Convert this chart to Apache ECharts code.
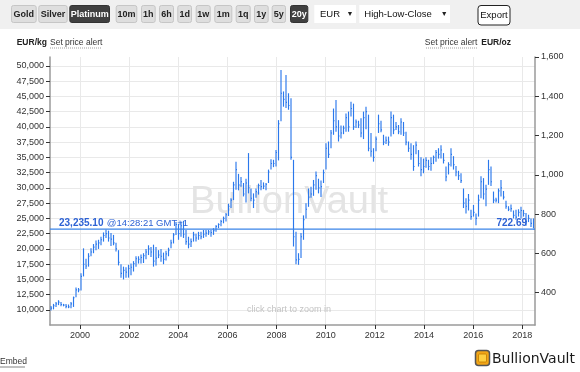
<!DOCTYPE html>
<html><head><meta charset="utf-8">
<script src="https://cdn.jsdelivr.net/npm/echarts@6/dist/echarts.min.js"></script>
<style>html,body{margin:0;padding:0;background:#fff}#c{width:580px;height:372px}</style>
</head><body><div id="c"></div>
<script>
// ---- data (EUR/kg), one HLC bar roughly every 37 days ----
const firstBarYear = 1998.82;
const barStepYears = 0.10174;
const highs = [
10650,11000,11300,11600,11300,11000,11000,10900,11300,12200,
13700,13600,16000,20100,18400,19300,20100,20800,21400,21500,
22000,22700,23200,23000,22600,22300,21000,19800,17500,17100,
17000,17400,17600,18000,18800,18800,19100,19300,20000,20600,
20300,20700,20300,19800,20000,19400,19700,20200,21500,22600,
24400,24100,24500,24600,23100,22000,21700,22800,22500,22800,
22800,23100,23100,23100,23100,23400,23900,24200,24800,25300,
25900,27400,28300,31000,34300,32300,31800,30800,31500,35700,
29900,29100,29900,30700,31300,30900,30800,33000,34700,34600,
36200,41100,49300,45800,48500,45500,44700,34600,22800,19300,
22600,25500,27500,29900,30200,31300,32700,31500,31200,33000,
37300,37600,39500,43000,44400,41100,40200,40200,42200,42500,
44100,43800,41200,41000,41400,42500,43300,42000,39000,36500,
38400,42000,41000,38700,38400,38400,42500,42000,40800,40300,
41400,40800,39200,37600,37300,37000,37600,36200,35000,34800,
35000,34600,35000,35300,36200,36500,37000,35700,33500,34200,
36500,35200,33600,32800,32400,29900,28300,29000,26400,27200,
25800,28900,31900,31600,30500,34600,33500,29400,28400,29900,
31300,29500,27900,27000,27300,26300,26400,26500,26900,26400,
25900,25600,25000,25000];
const lows = [
9900,10100,10500,10800,10600,10600,10300,10300,10300,10500,
12100,12900,13200,15500,16700,17100,18800,19300,19800,20000,
20600,21200,21800,21200,20500,20600,19600,17300,15300,15000,
15300,15300,15700,16300,17100,17600,17600,17700,18300,19000,
18700,17100,17300,18500,17900,17500,18100,18800,20100,20900,
22300,21500,22000,21800,20700,20100,20300,21200,21200,21500,
21600,21800,22000,22300,22000,22300,22800,23400,23700,24200,
24500,25400,26700,28000,29700,29600,30200,28600,27600,29100,
27800,26700,28400,28900,29600,29800,29600,30800,33000,33400,
33500,34500,40900,43300,43100,42800,34600,20400,17500,17400,
18500,21500,25000,26900,28400,28700,29700,29100,28500,30800,
33000,34900,36500,38700,39200,37600,38100,38800,39200,39200,
41700,39500,39800,39800,38300,38000,39600,36000,35100,34300,
36000,39000,39100,37000,37200,36900,38400,38800,39500,38800,
38700,38500,37000,35900,34600,32800,35500,33500,31900,32400,
33300,32900,32800,33900,34300,34800,34800,34000,31100,32200,
33500,33000,31900,31300,30800,26700,25800,26300,24800,25300,
23900,25300,28300,28100,27000,30500,30300,27500,27600,27500,
28600,28100,26600,26200,26100,25000,24800,25300,25000,25300,
23800,24400,23600,23400];
const closes = [
10300,10700,11000,11300,10900,10800,10600,10500,11000,12000,
13300,13300,15500,17500,17200,18800,19500,20300,20800,21000,
21500,22200,22500,21800,21600,21000,20000,17800,16000,16500,
16200,16800,17000,17600,18400,18300,18600,18900,19500,20000,
19500,18000,18500,19000,18800,18300,19200,19800,21000,22300,
24000,22500,23800,22400,21200,20800,21200,22300,21800,22200,
22000,22400,22600,22800,22700,23000,23700,24000,24500,25000,
25600,27000,28000,30500,33000,30500,31000,29000,30800,30000,
28300,28000,29400,30400,30200,30300,30600,32600,34000,34000,
35800,40500,45500,44500,44000,43500,35000,22000,18200,18300,
22000,24800,26500,28500,29000,30500,32000,30000,30200,32500,
36500,35500,39000,41000,40000,38500,39000,39800,41500,40000,
43000,40000,40800,40300,39000,41500,42500,36500,36000,35000,
38000,40500,39500,37500,37800,37500,41500,39500,40000,39200,
40800,39000,37500,36500,35500,33500,37000,34000,33000,33500,
34500,33500,34000,35000,35800,35500,36200,34500,31800,33800,
35500,33800,32600,32000,31200,27500,27000,28000,25300,26000,
25000,28000,31000,29000,29800,33000,31000,28000,28000,29500,
30000,28500,27000,26500,26600,25500,25200,26000,26300,25800,
24500,25000,24200,23235.10];
const yearTicks = [2000,2002,2004,2006,2008,2010,2012,2014,2016,2018];
const kgTicks = [10000,12500,15000,17500,20000,22500,25000,27500,30000,32500,35000,37500,40000,42500,45000,47500,50000];
const ozTicks = [400,600,800,1000,1200,1400,1600];
const lastPriceKg = 23235.10;
const lastPriceOz = 722.69;
const lastTime = '14:28:21 GMT+1';
const metalButtons = ['Gold','Silver','Platinum'];
const periodButtons = ['10m','1h','6h','1d','1w','1m','1q','1y','5y','20y'];
const selectedButtons = ['Platinum','20y'];
const KG_PER_OZ = 32.1507466;

// ---- layout (pixels) ----
const X_MIN = 1998.779, X_MAX = 2018.517;
const KG_MIN = 7541, OZ_MAX = 1600, KG_MAX = OZ_MAX * KG_PER_OZ;
const buttonBoxes = [[11,36.7],[38.3,67.7],[69.3,110],[115.7,137.3],[141,155.7],[159,174],[177.3,192],[195.7,210.7],[214.3,232.3],[235.7,250.7],[254,268.7],[271.7,286],[290,308.3]];
const FONT = "'Liberation Sans', Arial, sans-serif";
const fmt = v => Math.round(v).toLocaleString('en-US');
const BLUE = '#2a78ec';
const LINE_BLUE = '#3a84e8';
const LABEL_BLUE = '#2d62d4';

const graphics = [];
graphics.push({type:'rect', shape:{x:0,y:0,width:580,height:29}, style:{fill:'#f0f0f0'}, z:0});
metalButtons.concat(periodButtons).forEach((name, i) => {
  const [x0, x1] = buttonBoxes[i];
  const sel = selectedButtons.includes(name);
  graphics.push({type:'rect', shape:{x:x0+0.5,y:5.5,width:x1-x0-1,height:17,r:2},
    style:{fill: sel ? '#404040' : '#dedede', stroke: sel ? '#333' : '#c6c6c6', lineWidth:1}, z:1});
  graphics.push({type:'text', style:{text:name, x:(x0+x1)/2, y:14.3, textAlign:'center', textVerticalAlign:'middle',
    font:'bold 9px ' + FONT, fill: sel ? '#ffffff' : '#222'}, z:2});
});
// dropdowns
graphics.push({type:'rect', shape:{x:314.3,y:5,width:41.7,height:18}, style:{fill:'#fff'}, z:1});
graphics.push({type:'text', style:{text:'EUR', x:320, y:14.3, textVerticalAlign:'middle', font:'9.5px '+FONT, fill:'#111'}, z:2});
graphics.push({type:'text', style:{text:'▼', x:350, y:14.3, textAlign:'center', textVerticalAlign:'middle', font:'7px '+FONT, fill:'#222'}, z:2});
graphics.push({type:'rect', shape:{x:359.3,y:5,width:90.7,height:18}, style:{fill:'#fff'}, z:1});
graphics.push({type:'text', style:{text:'High-Low-Close', x:364.3, y:14.3, textVerticalAlign:'middle', font:'9.5px '+FONT, fill:'#111'}, z:2});
graphics.push({type:'text', style:{text:'▼', x:444.3, y:14.3, textAlign:'center', textVerticalAlign:'middle', font:'7px '+FONT, fill:'#222'}, z:2});
graphics.push({type:'rect', shape:{x:478,y:5.5,width:32,height:19.5,r:3}, style:{fill:'#fff', stroke:'#222', lineWidth:1}, z:1});
graphics.push({type:'text', style:{text:'Export', x:494, y:15.5, textAlign:'center', textVerticalAlign:'middle', font:'9.5px '+FONT, fill:'#111'}, z:2});
// unit row
graphics.push({type:'text', style:{text:'EUR/kg', x:16.7, y:43, textVerticalAlign:'middle', font:'bold 8.5px '+FONT, fill:'#222'}});
graphics.push({type:'text', style:{text:'Set price alert', x:50, y:43, textVerticalAlign:'middle', font:'8.5px '+FONT, fill:'#333'}});
graphics.push({type:'line', shape:{x1:50,y1:48,x2:101.5,y2:48}, style:{stroke:'#888', lineWidth:0.8, lineDash:[1,1]}});
graphics.push({type:'text', style:{text:'Set price alert', x:477.3, y:43, textAlign:'right', textVerticalAlign:'middle', font:'8.5px '+FONT, fill:'#333'}});
graphics.push({type:'line', shape:{x1:426,y1:48,x2:477.3,y2:48}, style:{stroke:'#888', lineWidth:0.8, lineDash:[1,1]}});
graphics.push({type:'text', style:{text:'EUR/oz', x:511, y:43, textAlign:'right', textVerticalAlign:'middle', font:'bold 8.5px '+FONT, fill:'#222'}});
// watermark and hint
graphics.push({type:'text', style:{text:'BullionVault', x:289, y:203, textAlign:'center', textVerticalAlign:'middle', font:'38px '+FONT, fill:'#e4e4e4'}, z:1});
graphics.push({type:'text', style:{text:'click chart to zoom in', x:289, y:310, textAlign:'center', textVerticalAlign:'middle', font:'9px '+FONT, fill:'#c4c4c4'}, z:1});
// footer
graphics.push({type:'text', style:{text:'Embed', x:0, y:362, textVerticalAlign:'middle', font:'8.5px '+FONT, fill:'#333'}});
graphics.push({type:'line', shape:{x1:0,y1:367,x2:25,y2:367}, style:{stroke:'#666', lineWidth:0.8}});
graphics.push({type:'rect', shape:{x:475.5,y:350.5,width:14,height:15,r:3}, style:{fill:'#f2a516', stroke:'#555', lineWidth:1.5}});
graphics.push({type:'rect', shape:{x:478.5,y:354,width:8,height:8,r:1}, style:{fill:'#ffcf40', stroke:'#c07a00', lineWidth:0.8}});
graphics.push({type:'text', style:{text:'BullionVault', x:492, y:359, textVerticalAlign:'middle', font:'14px DejaVu Sans, sans-serif', fill:'#1a1a1a'}});

const barData = highs.map((h, i) => [firstBarYear + i * barStepYears, h, lows[i], closes[i]]);

const chart = echarts.init(document.getElementById('c'), null, {renderer:'canvas'});
chart.setOption({
  animation: false,
  backgroundColor: '#fff',
  color: [LINE_BLUE],
  grid: {left:50, right:45, top:57, bottom:47, containLabel:false},
  xAxis: {
    type:'value', min:X_MIN, max:X_MAX,
    axisLine:{show:true, onZero:false, lineStyle:{color:'#9a9a9a', width:1.5}},
    axisTick:{show:true, length:4, customValues:yearTicks, lineStyle:{color:'#333'}},
    axisLabel:{customValues:yearTicks, fontSize:9, fontFamily:FONT, color:'#333', margin:6, formatter:v=>String(v)},
    splitLine:{show:true, lineStyle:{color:'#e9e9e9', width:1}}
  },
  yAxis: [{
    type:'value', position:'left', min:KG_MIN, max:KG_MAX,
    axisLine:{show:true, lineStyle:{color:'#9a9a9a', width:1.5}},
    axisTick:{show:true, length:4, customValues:kgTicks, lineStyle:{color:'#333'}},
    axisLabel:{customValues:kgTicks, fontSize:9, fontFamily:FONT, color:'#333', margin:6, formatter:fmt},
    splitLine:{show:true, lineStyle:{color:'#e9e9e9', width:1}}
  },{
    type:'value', position:'right', min:KG_MIN/KG_PER_OZ, max:OZ_MAX,
    axisLine:{show:true, lineStyle:{color:'#9a9a9a', width:1.5}},
    axisTick:{show:true, length:4, customValues:ozTicks, lineStyle:{color:'#333'}},
    axisLabel:{customValues:ozTicks, fontSize:9, fontFamily:FONT, color:'#333', margin:6, formatter:fmt},
    splitLine:{show:false}
  }],
  graphic: graphics,
  series: [{
    type:'custom', xAxisIndex:0, yAxisIndex:0, clip:true, z:5,
    data: barData,
    encode:{x:0, y:[1,2,3]},
    renderItem: (params, api) => {
      const x = api.value(0);
      const hi = api.coord([x, api.value(1)]);
      const lo = api.coord([x, api.value(2)]);
      const cl = api.coord([x, api.value(3)]);
      const style = {stroke:BLUE, lineWidth:1.15};
      return {type:'group', children:[
        {type:'line', shape:{x1:hi[0], y1:hi[1], x2:lo[0], y2:lo[1]}, style},
        {type:'line', shape:{x1:cl[0], y1:cl[1], x2:cl[0]+1, y2:cl[1]}, style}
      ]};
    }
  },{
    type:'line', name:'last', xAxisIndex:0, yAxisIndex:0, z:6,
    data:[[X_MIN, lastPriceKg],[X_MAX, lastPriceKg]],
    showSymbol:false, symbol:'none', silent:true,
    lineStyle:{color:LINE_BLUE, width:1.2},
    itemStyle:{color:LINE_BLUE},
    markPoint:{
      silent:true, symbol:'circle', symbolSize:0,
      data:[
        {coord:[X_MIN, lastPriceKg], label:{show:true, position:'right', offset:[4,-6],
          formatter:'{b|' + lastPriceKg.toLocaleString('en-US',{minimumFractionDigits:2}) + '} {n|@' + lastTime + '}',
          rich:{b:{fontWeight:'bold', fontSize:10, fontFamily:FONT, color:LABEL_BLUE}, n:{fontSize:9.5, fontFamily:FONT, color:LABEL_BLUE}}}},
        {coord:[X_MAX, lastPriceKg], label:{show:true, position:'left', offset:[-3,-6],
          formatter:lastPriceOz.toFixed(2), fontWeight:'bold', fontSize:10, fontFamily:FONT, color:LABEL_BLUE}}
      ]
    }
  }]
});
</script></body></html>
